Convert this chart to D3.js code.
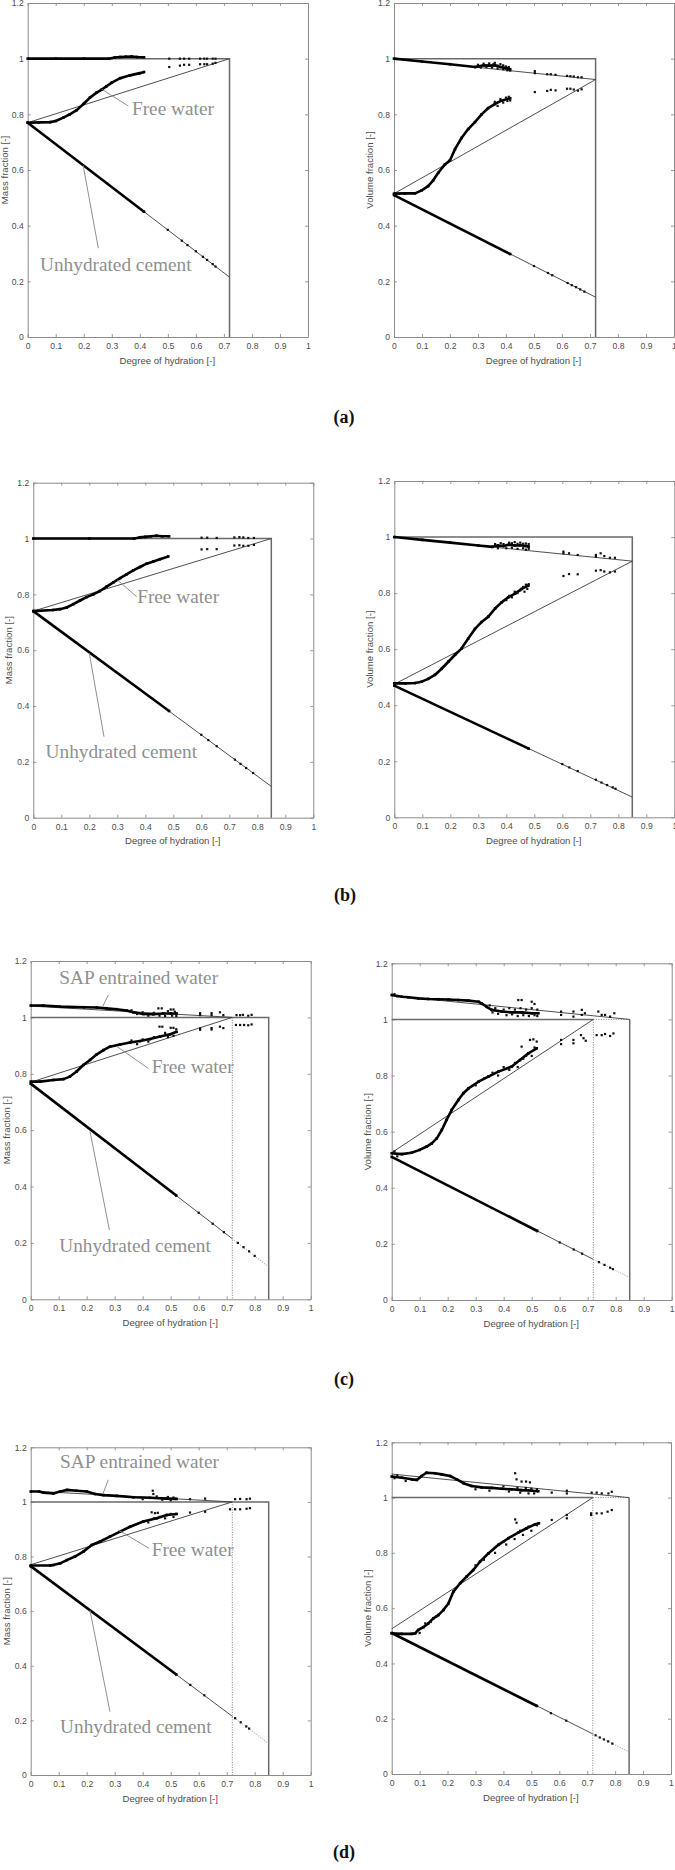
<!DOCTYPE html>
<html><head><meta charset="utf-8">
<script src="https://cdn.jsdelivr.net/npm/d3@7"></script>
<style>body{margin:0;background:#fff} svg{display:block}</style>
</head><body>
<svg id="c" width="675" height="1870"></svg>
<script>
// ---------- ticks ----------
const xTicks = [0,0.1,0.2,0.3,0.4,0.5,0.6,0.7,0.8,0.9,1];
const xTickLabels = ["0","0.1","0.2","0.3","0.4","0.5","0.6","0.7","0.8","0.9","1"];
const yTicks = [0,0.2,0.4,0.6,0.8,1,1.2];
const yTickLabels = ["0","0.2","0.4","0.6","0.8","1","1.2"];
const panelLetters = ["(a)","(b)","(c)","(d)"];

// ---------- (a) mass ----------
const aM_top = [[0,1.0],[0.1,1.0],[0.2,1.0],[0.29,1.0],[0.31,1.004],[0.33,1.006],[0.35,1.007],[0.37,1.008],[0.39,1.006],[0.415,1.005]];
const aM_topPts = [[0.505,1.0],[0.543,1.0],[0.558,1.0],[0.576,1.0],[0.615,1.0],[0.63,1.0],[0.64,1.0],[0.66,1.0],[0.67,1.0]];
const aM_free = [[0,0.77],[0.04,0.771],[0.08,0.772],[0.1,0.776],[0.127,0.788],[0.15,0.8],[0.175,0.815],[0.2,0.838],[0.222,0.86],[0.246,0.878],[0.264,0.889],[0.28,0.9],[0.3,0.914],[0.33,0.93],[0.365,0.94],[0.4,0.948],[0.415,0.952]];
const aM_freePts = [[0.505,0.97],[0.543,0.975],[0.558,0.978],[0.576,0.978],[0.615,0.98],[0.63,0.98],[0.64,0.98],[0.66,0.982],[0.67,0.985]];
const aM_cem = [[0,0.77],[0.415,0.45]];
const aM_cemPts = [[0.5,0.385],[0.55,0.346],[0.57,0.33],[0.6,0.308],[0.625,0.288],[0.64,0.277],[0.66,0.262],[0.67,0.253]];
const aM_thFree = [[0,0.77],[0.72,1.0]];
const aM_thCem = [[0,0.77],[0.72,0.215]];
const aM_box = [[0,1],[0.72,1],[0.72,0]];

// ---------- (a) volume ----------
const aV_top = [[0,1.0],[0.1,0.99],[0.2,0.98],[0.29,0.97],[0.3,0.972],[0.32,0.976],[0.34,0.975],[0.36,0.976],[0.38,0.97],[0.4,0.966],[0.415,0.962]];
const aV_topNoise = [[0.3,0.978],[0.31,0.968],[0.32,0.982],[0.33,0.97],[0.34,0.983],[0.35,0.968],[0.355,0.98],[0.36,0.985],[0.37,0.975],[0.37,0.965],[0.38,0.98],[0.39,0.962],[0.39,0.976],[0.4,0.972],[0.405,0.958],[0.41,0.97],[0.415,0.957]];
const aV_topPts = [[0.503,0.955],[0.503,0.948],[0.547,0.944],[0.56,0.944],[0.577,0.942],[0.618,0.938],[0.63,0.937],[0.642,0.936],[0.657,0.933],[0.67,0.933]];
const aV_free = [[0,0.515],[0.04,0.516],[0.075,0.516],[0.099,0.527],[0.122,0.542],[0.14,0.563],[0.158,0.59],[0.182,0.62],[0.2,0.635],[0.218,0.675],[0.241,0.715],[0.265,0.747],[0.289,0.772],[0.313,0.8],[0.336,0.822],[0.36,0.837],[0.384,0.849],[0.415,0.858]];
const aV_freeNoise = [[0.36,0.845],[0.37,0.83],[0.38,0.855],[0.39,0.842],[0.4,0.86],[0.405,0.848],[0.41,0.863],[0.415,0.85]];
const aV_freePts = [[0.503,0.88],[0.547,0.884],[0.56,0.888],[0.577,0.886],[0.618,0.892],[0.63,0.892],[0.642,0.889],[0.657,0.885],[0.67,0.89]];
const aV_cem = [[0,0.51],[0.415,0.298]];
const aV_cemPts = [[0.5,0.255],[0.55,0.23],[0.565,0.222],[0.62,0.194],[0.635,0.186],[0.65,0.179],[0.665,0.171],[0.68,0.163]];
const aV_thTop = [[0,1],[0.72,0.925]];
const aV_thFree = [[0,0.515],[0.72,0.925]];
const aV_thCem = [[0,0.51],[0.72,0.143]];
const aV_box = [[0,1],[0.72,1],[0.72,0]];

// ---------- (b) mass ----------
const bM_top = [[0,1.0],[0.2,1.0],[0.36,1.0],[0.38,1.004],[0.4,1.006],[0.42,1.008],[0.44,1.01],[0.46,1.008],[0.485,1.008]];
const bM_topPts = [[0.601,1.003],[0.621,1.003],[0.655,1.002],[0.718,1.004],[0.736,1.005],[0.75,1.004],[0.768,1.002],[0.788,1.002]];
const bM_free = [[0,0.74],[0.07,0.744],[0.095,0.747],[0.119,0.753],[0.143,0.765],[0.167,0.778],[0.19,0.79],[0.214,0.8],[0.238,0.812],[0.262,0.828],[0.286,0.843],[0.31,0.858],[0.333,0.872],[0.357,0.886],[0.381,0.898],[0.405,0.91],[0.429,0.918],[0.452,0.926],[0.482,0.936]];
const bM_freePts = [[0.601,0.961],[0.621,0.962],[0.655,0.962],[0.718,0.975],[0.736,0.976],[0.75,0.974],[0.768,0.974],[0.788,0.977]];
const bM_cem = [[0,0.74],[0.485,0.382]];
const bM_cemPts = [[0.6,0.297],[0.625,0.278],[0.655,0.256],[0.72,0.208],[0.74,0.193],[0.76,0.178],[0.785,0.16]];
const bM_thFree = [[0,0.74],[0.85,1.0]];
const bM_thCem = [[0,0.74],[0.85,0.112]];
const bM_box = [[0,1],[0.85,1],[0.85,0]];

// ---------- (b) volume ----------
const bV_top = [[0,1.0],[0.1,0.99],[0.2,0.98],[0.3,0.97],[0.35,0.965],[0.37,0.97],[0.39,0.968],[0.41,0.973],[0.43,0.97],[0.45,0.971],[0.47,0.968],[0.48,0.966]];
const bV_topNoise = [[0.36,0.975],[0.37,0.96],[0.38,0.978],[0.39,0.975],[0.4,0.96],[0.41,0.98],[0.42,0.978],[0.42,0.962],[0.43,0.982],[0.44,0.958],[0.44,0.976],[0.45,0.98],[0.46,0.976],[0.46,0.96],[0.47,0.977],[0.47,0.955],[0.48,0.975],[0.48,0.958]];
const bV_topPts = [[0.604,0.948],[0.604,0.942],[0.624,0.942],[0.655,0.936],[0.72,0.936],[0.72,0.93],[0.737,0.942],[0.75,0.932],[0.77,0.926],[0.788,0.926]];
const bV_free = [[0,0.478],[0.04,0.478],[0.074,0.479],[0.098,0.484],[0.121,0.494],[0.145,0.508],[0.169,0.53],[0.193,0.555],[0.217,0.58],[0.24,0.602],[0.264,0.638],[0.288,0.672],[0.312,0.697],[0.336,0.716],[0.36,0.745],[0.383,0.767],[0.407,0.785],[0.431,0.798],[0.455,0.815],[0.479,0.827]];
const bV_freeNoise = [[0.4,0.775],[0.41,0.79],[0.42,0.785],[0.43,0.805],[0.44,0.8],[0.45,0.81],[0.46,0.822],[0.465,0.805],[0.47,0.83],[0.475,0.815],[0.48,0.832]];
const bV_freePts = [[0.604,0.861],[0.624,0.868],[0.655,0.867],[0.72,0.88],[0.737,0.882],[0.75,0.877],[0.77,0.874],[0.788,0.877]];
const bV_cem = [[0,0.47],[0.48,0.245]];
const bV_cemPts = [[0.6,0.19],[0.625,0.178],[0.655,0.165],[0.72,0.134],[0.74,0.124],[0.76,0.115],[0.78,0.107],[0.79,0.102]];
const bV_thTop = [[0,1],[0.85,0.914]];
const bV_thFree = [[0,0.475],[0.85,0.914]];
const bV_thCem = [[0,0.47],[0.85,0.072]];
const bV_box = [[0,1],[0.85,1],[0.85,0]];

// ---------- (c) mass ----------
const cM_sap = [[0,1.042],[0.045,1.042],[0.105,1.038],[0.19,1.036],[0.236,1.035],[0.27,1.032],[0.307,1.029],[0.343,1.024],[0.367,1.018],[0.402,1.012],[0.438,1.011],[0.474,1.014],[0.5,1.014],[0.521,1.014]];
const cM_sapNoise = [[0.36,1.025],[0.38,1.012],[0.4,1.018],[0.42,1.006],[0.44,1.016],[0.456,1.032],[0.468,1.032],[0.46,1.006],[0.48,1.005],[0.49,1.022],[0.5,1.028],[0.51,1.028],[0.505,1.006],[0.515,1.02],[0.52,1.005]];
const cM_sapPts = [[0.605,1.015],[0.605,1.008],[0.646,1.015],[0.646,1.008],[0.676,1.018],[0.688,1.008],[0.735,1.008],[0.748,1.008],[0.758,1.009],[0.777,1.006],[0.789,1.009]];
const cM_free = [[0,0.772],[0.033,0.772],[0.081,0.778],[0.117,0.781],[0.14,0.79],[0.164,0.808],[0.188,0.831],[0.212,0.849],[0.236,0.869],[0.26,0.884],[0.283,0.896],[0.319,0.904],[0.355,0.911],[0.39,0.916],[0.426,0.923],[0.462,0.932],[0.498,0.94],[0.521,0.949]];
const cM_freeNoise = [[0.36,0.918],[0.38,0.905],[0.4,0.922],[0.42,0.914],[0.44,0.93],[0.46,0.967],[0.47,0.967],[0.48,0.945],[0.49,0.93],[0.5,0.963],[0.51,0.963],[0.51,0.935],[0.52,0.958]];
const cM_freePts = [[0.605,0.961],[0.605,0.956],[0.646,0.962],[0.646,0.957],[0.676,0.967],[0.688,0.962],[0.733,0.973],[0.748,0.973],[0.762,0.973],[0.777,0.972],[0.789,0.975]];
const cM_cem = [[0,0.765],[0.52,0.368]];
const cM_cemPts = [[0.6,0.307],[0.65,0.268],[0.69,0.238],[0.74,0.2],[0.76,0.185],[0.78,0.17],[0.8,0.154]];
const cM_thSap = [[0,1.04],[0.72,1.0]];
const cM_thFree = [[0,0.77],[0.72,1.0]];
const cM_thCem = [[0,0.765],[0.72,0.215]];
const cM_thCemDot = [[0.72,0.215],[0.85,0.115]];
const cM_box = [[0,1],[0.85,1],[0.85,0]];
const cM_dotV = [[0.72,1],[0.72,0]];

// ---------- (c) volume ----------
const cV_sap = [[0,1.087],[0.036,1.081],[0.06,1.079],[0.095,1.075],[0.131,1.073],[0.167,1.072],[0.202,1.071],[0.238,1.069],[0.274,1.067],[0.31,1.063],[0.321,1.057],[0.339,1.045],[0.357,1.034],[0.393,1.028],[0.429,1.025],[0.464,1.025],[0.5,1.022],[0.524,1.022]];
const cV_sapNoise = [[0.01,1.09],[0.02,1.082],[0.35,1.05],[0.36,1.025],[0.37,1.04],[0.38,1.02],[0.4,1.035],[0.41,1.015],[0.42,1.04],[0.43,1.018],[0.44,1.035],[0.45,1.012],[0.452,1.069],[0.464,1.069],[0.46,1.04],[0.47,1.015],[0.48,1.035],[0.49,1.012],[0.5,1.063],[0.51,1.055],[0.5,1.04],[0.51,1.015],[0.52,1.035],[0.52,1.012]];
const cV_sapPts = [[0.605,1.028],[0.605,1.016],[0.649,1.028],[0.649,1.01],[0.679,1.034],[0.679,1.016],[0.69,1.022],[0.738,1.028],[0.75,1.016],[0.762,1.016],[0.78,1.01],[0.795,1.022]];
const cV_free = [[0,0.523],[0.036,0.52],[0.071,0.525],[0.1,0.535],[0.125,0.547],[0.143,0.558],[0.161,0.576],[0.179,0.606],[0.196,0.642],[0.214,0.677],[0.238,0.713],[0.256,0.737],[0.274,0.754],[0.31,0.778],[0.345,0.796],[0.381,0.814],[0.429,0.832],[0.458,0.855],[0.488,0.879],[0.518,0.897]];
const cV_freeNoise = [[0.01,0.53],[0.02,0.512],[0.3,0.765],[0.33,0.79],[0.36,0.81],[0.38,0.8],[0.4,0.83],[0.42,0.82],[0.44,0.845],[0.45,0.83],[0.464,0.903],[0.47,0.86],[0.48,0.87],[0.494,0.927],[0.506,0.929],[0.518,0.921],[0.5,0.87],[0.51,0.9]];
const cV_freePts = [[0.605,0.927],[0.605,0.912],[0.649,0.927],[0.649,0.915],[0.676,0.944],[0.685,0.933],[0.693,0.924],[0.732,0.944],[0.75,0.944],[0.762,0.948],[0.78,0.941],[0.792,0.95]];
const cV_cem = [[0,0.51],[0.52,0.246]];
const cV_cemPts = [[0.6,0.205],[0.65,0.18],[0.68,0.165],[0.74,0.135],[0.76,0.125],[0.78,0.115],[0.79,0.11]];
const cV_thSap = [[0,1.085],[0.85,1.0]];
const cV_thFree = [[0,0.525],[0.72,1.0]];
const cV_thCem = [[0,0.51],[0.72,0.145]];
const cV_thCemDot = [[0.72,0.145],[0.85,0.08]];
const cV_box = [[0,1],[0.72,1]];
const cV_boxDot = [[0.72,1],[0.85,1]];
const cV_boxV = [[0.85,1],[0.85,0]];
const cV_dotV = [[0.72,1],[0.72,0]];

// ---------- (d) mass ----------
const dM_sap = [[0,1.038],[0.03,1.038],[0.045,1.034],[0.081,1.031],[0.105,1.038],[0.129,1.044],[0.164,1.041],[0.2,1.038],[0.23,1.029],[0.26,1.025],[0.307,1.022],[0.367,1.017],[0.426,1.015],[0.486,1.012],[0.521,1.011]];
const dM_sapNoise = [[0.436,1.041],[0.438,1.029],[0.4,1.01],[0.45,1.02],[0.47,1.008],[0.49,1.018],[0.5,1.006],[0.51,1.016]];
const dM_sapPts = [[0.569,1.01],[0.623,1.012],[0.73,1.01],[0.748,1.011],[0.771,1.01],[0.783,1.012]];
const dM_free = [[0,0.767],[0.07,0.767],[0.081,0.769],[0.105,0.775],[0.129,0.787],[0.158,0.8],[0.188,0.818],[0.218,0.842],[0.248,0.855],[0.283,0.873],[0.319,0.891],[0.355,0.909],[0.402,0.928],[0.45,0.94],[0.486,0.952],[0.521,0.956]];
const dM_freeNoise = [[0.432,0.962],[0.444,0.959],[0.454,0.96],[0.42,0.925],[0.44,0.94],[0.46,0.945],[0.48,0.94],[0.5,0.956],[0.51,0.945]];
const dM_freePts = [[0.569,0.961],[0.623,0.964],[0.712,0.973],[0.73,0.973],[0.748,0.973],[0.771,0.975],[0.783,0.977]];
const dM_cem = [[0,0.765],[0.52,0.368]];
const dM_cemPts = [[0.57,0.33],[0.62,0.292],[0.73,0.208],[0.75,0.193],[0.77,0.178],[0.78,0.17]];
const dM_thSap = [[0,1.04],[0.72,1.0]];
const dM_thFree = [[0,0.77],[0.72,1.0]];
const dM_thCem = [[0,0.765],[0.72,0.215]];
const dM_thCemDot = [[0.72,0.215],[0.85,0.115]];
const dM_box = [[0,1],[0.85,1],[0.85,0]];
const dM_dotV = [[0.72,1],[0.72,0]];

// ---------- (d) volume ----------
const dV_sap = [[0,1.076],[0.036,1.072],[0.072,1.066],[0.09,1.064],[0.107,1.078],[0.125,1.09],[0.155,1.088],[0.179,1.084],[0.209,1.078],[0.233,1.066],[0.257,1.052],[0.286,1.042],[0.322,1.037],[0.358,1.035],[0.394,1.032],[0.43,1.03],[0.465,1.027],[0.501,1.025],[0.525,1.023]];
const dV_sapNoise = [[0.442,1.088],[0.447,1.066],[0.465,1.058],[0.481,1.058],[0.495,1.055],[0.01,1.07],[0.02,1.08],[0.05,1.06],[0.3,1.03],[0.35,1.025],[0.4,1.04],[0.42,1.022],[0.45,1.035],[0.46,1.018],[0.48,1.035],[0.49,1.015],[0.5,1.032],[0.51,1.015],[0.52,1.03]];
const dV_sapPts = [[0.573,1.018],[0.627,1.025],[0.627,1.015],[0.716,1.018],[0.734,1.018],[0.752,1.015],[0.776,1.015],[0.788,1.021]];
const dV_free = [[0,0.509],[0.036,0.507],[0.072,0.507],[0.084,0.509],[0.095,0.521],[0.113,0.531],[0.131,0.545],[0.149,0.563],[0.167,0.575],[0.185,0.593],[0.203,0.617],[0.221,0.66],[0.245,0.69],[0.268,0.714],[0.292,0.738],[0.316,0.768],[0.346,0.798],[0.382,0.829],[0.418,0.853],[0.453,0.873],[0.483,0.889],[0.513,0.903],[0.527,0.907]];
const dV_freeNoise = [[0.442,0.921],[0.447,0.909],[0.1,0.51],[0.12,0.545],[0.14,0.55],[0.16,0.57],[0.3,0.755],[0.33,0.775],[0.36,0.81],[0.37,0.8],[0.4,0.84],[0.41,0.83],[0.43,0.86],[0.44,0.85],[0.46,0.88],[0.47,0.865],[0.49,0.895],[0.5,0.88],[0.52,0.9]];
const dV_freePts = [[0.573,0.919],[0.627,0.937],[0.627,0.925],[0.714,0.943],[0.714,0.937],[0.734,0.943],[0.752,0.943],[0.773,0.949],[0.788,0.955]];
const dV_cem = [[0,0.51],[0.52,0.246]];
const dV_cemPts = [[0.57,0.22],[0.625,0.193],[0.73,0.14],[0.745,0.132],[0.76,0.125],[0.775,0.118],[0.79,0.11]];
const dV_thSap = [[0,1.085],[0.85,1.0]];
const dV_thFree = [[0,0.525],[0.72,1.0]];
const dV_thCem = [[0,0.51],[0.72,0.145]];
const dV_thCemDot = [[0.72,0.145],[0.85,0.08]];
const dV_box = [[0,1],[0.72,1]];
const dV_boxDot = [[0.72,1],[0.85,1]];
const dV_boxV = [[0.85,1],[0.85,0]];
const dV_dotV = [[0.72,1],[0.72,0]];

// ---------- annotation texts ----------
const txtFree = "Free water", txtCem = "Unhydrated cement", txtSap = "SAP entrained water";
const massTitle = "Mass fraction [-]", volTitle = "Volume fraction [-]", xTitle = "Degree of hydration [-]";

// ---------- layout (pixel positions) ----------
const panels = [
 {x0:27.7, x1:308, y0:3, y1:337, yt:massTitle, ytx:5,
  theory:[aM_thFree,aM_thCem], box:[aM_box], dots:[], boxDots:[],
  dense:[aM_top,aM_free,aM_cem], pts:[aM_topPts,aM_freePts,aM_cemPts],
  notes:[{t:txtFree,x:0.372,y:0.798,l:[[0.264,0.89],[0.359,0.83]]},{t:txtCem,x:0.044,y:0.238,l:[[0.198,0.616],[0.252,0.319]]}]},
 {x0:394, x1:674, y0:3, y1:337, yt:volTitle, ytx:370,
  theory:[aV_thTop,aV_thFree,aV_thCem], box:[aV_box], dots:[], boxDots:[],
  dense:[aV_top,aV_free,aV_cem], pts:[aV_topNoise,aV_topPts,aV_freeNoise,aV_freePts,aV_cemPts], notes:[]},
 {x0:33.3, x1:313.3, y0:482.7, y1:817.7, yt:massTitle, ytx:9,
  theory:[bM_thFree,bM_thCem], box:[bM_box], dots:[], boxDots:[],
  dense:[bM_top,bM_free,bM_cem], pts:[bM_topPts,bM_freePts,bM_cemPts],
  notes:[{t:txtFree,x:0.371,y:0.77,l:[[0.3,0.852],[0.369,0.792]]},{t:txtCem,x:0.044,y:0.213,l:[[0.2,0.589],[0.2525,0.29]]}]},
 {x0:394.3, x1:674.3, y0:481, y1:817.3, yt:volTitle, ytx:369.5,
  theory:[bV_thTop,bV_thFree,bV_thCem], box:[bV_box], dots:[], boxDots:[],
  dense:[bV_top,bV_free,bV_cem], pts:[bV_topNoise,bV_topPts,bV_freeNoise,bV_freePts,bV_cemPts], notes:[]},
 {x0:30.7, x1:310.7, y0:961, y1:1299.3, yt:massTitle, ytx:6.5,
  theory:[cM_thSap,cM_thFree,cM_thCem], box:[cM_box], dots:[cM_thCemDot], boxDots:[cM_dotV],
  dense:[cM_sap,cM_free,cM_cem], pts:[cM_sapNoise,cM_sapPts,cM_freeNoise,cM_freePts,cM_cemPts],
  notes:[{t:txtSap,x:0.102,y:1.118,l:[[0.277,1.079],[0.257,1.038]]},{t:txtFree,x:0.432,y:0.802,l:[[0.309,0.896],[0.42,0.819]]},{t:txtCem,x:0.102,y:0.169,l:[[0.212,0.595],[0.281,0.246]]}]},
 {x0:391.7, x1:671.7, y0:963.3, y1:1300, yt:volTitle, ytx:368,
  theory:[cV_thSap,cV_thFree,cV_thCem], box:[cV_box,cV_boxV], dots:[cV_thCemDot], boxDots:[cV_dotV,cV_boxDot],
  dense:[cV_sap,cV_free,cV_cem], pts:[cV_sapNoise,cV_sapPts,cV_freeNoise,cV_freePts,cV_cemPts], notes:[]},
 {x0:30.7, x1:310.7, y0:1447.3, y1:1775, yt:massTitle, ytx:6.5,
  theory:[dM_thSap,dM_thFree,dM_thCem], box:[dM_box], dots:[dM_thCemDot], boxDots:[dM_dotV],
  dense:[dM_sap,dM_free,dM_cem], pts:[dM_sapNoise,dM_sapPts,dM_freeNoise,dM_freePts,dM_cemPts],
  notes:[{t:txtSap,x:0.105,y:1.123,l:[[0.277,1.081],[0.259,1.032]]},{t:txtFree,x:0.432,y:0.802,l:[[0.313,0.897],[0.4225,0.83]]},{t:txtCem,x:0.105,y:0.155,l:[[0.212,0.602],[0.283,0.232]]}]},
 {x0:391.7, x1:671, y0:1442.3, y1:1774, yt:volTitle, ytx:368,
  theory:[dV_thSap,dV_thFree,dV_thCem], box:[dV_box,dV_boxV], dots:[dV_thCemDot], boxDots:[dV_dotV,dV_boxDot],
  dense:[dV_sap,dV_free,dV_cem], pts:[dV_sapNoise,dV_sapPts,dV_freeNoise,dV_freePts,dV_cemPts], notes:[]}
];
const letterPos = [{x:344,y:423},{x:345,y:901},{x:344,y:1385},{x:344,y:1858}];

const svg = d3.select('#c');
const SANS = "'Liberation Sans', Arial, sans-serif";
const SERIF = "'Liberation Serif', 'Times New Roman', serif";
const AX = "#8c8c8c", TXT = "#4d4d4d";

panels.forEach(p => {
  const x = d3.scaleLinear().domain([0,1]).range([p.x0,p.x1]);
  const y = d3.scaleLinear().domain([0,1.2]).range([p.y1,p.y0]);
  const line = d3.line().x(d=>x(d[0])).y(d=>y(d[1]));
  const g = svg.append('g');

  const styleAxis = sel => {
    sel.selectAll('.domain').attr('stroke',AX).attr('stroke-width',1);
    sel.selectAll('.tick line').attr('stroke',AX).attr('stroke-width',0.9);
    sel.selectAll('.tick text').attr('fill',TXT).style('font-family',SANS).style('font-size','8.6px');
  };
  g.append('g').attr('transform',`translate(0,${p.y1})`)
    .call(d3.axisBottom(x).tickValues(xTicks).tickFormat((d,i)=>xTickLabels[i]).tickSize(-3).tickSizeOuter(0).tickPadding(6)).call(styleAxis);
  g.append('g').attr('transform',`translate(0,${p.y0})`)
    .call(d3.axisTop(x).tickValues(xTicks).tickFormat('').tickSize(-3).tickSizeOuter(0)).call(styleAxis);
  g.append('g').attr('transform',`translate(${p.x0},0)`)
    .call(d3.axisLeft(y).tickValues(yTicks).tickFormat((d,i)=>yTickLabels[i]).tickSize(-3).tickSizeOuter(0).tickPadding(4)).call(styleAxis);
  g.append('g').attr('transform',`translate(${p.x1},0)`)
    .call(d3.axisRight(y).tickValues(yTicks).tickFormat('').tickSize(-3).tickSizeOuter(0)).call(styleAxis);

  // titles
  g.append('text').attr('x',(p.x0+p.x1)/2 - 0.5).attr('y',p.y1+26.5).attr('text-anchor','middle')
    .attr('fill',TXT).style('font-family',SANS).style('font-size','9.6px').text(xTitle);
  g.append('text').attr('transform',`translate(${p.ytx},${(p.y0+p.y1)/2}) rotate(-90)`).attr('dy','0.35em')
    .attr('text-anchor','middle').attr('fill',TXT).style('font-family',SANS).style('font-size','9.6px').text(p.yt);

  // box lines
  p.box.forEach(b => g.append('path').attr('d',line(b)).attr('fill','none').attr('stroke','#6a6a6a').attr('stroke-width',1.5));
  p.boxDots.forEach(b => g.append('path').attr('d',line(b)).attr('fill','none').attr('stroke','#7a7a7a').attr('stroke-width',1).attr('stroke-dasharray','1,1.5'));
  // theory lines
  p.theory.forEach(t => g.append('path').attr('d',line(t)).attr('fill','none').attr('stroke','#3a3a3a').attr('stroke-width',0.9));
  p.dots.forEach(t => g.append('path').attr('d',line(t)).attr('fill','none').attr('stroke','#8a8a8a').attr('stroke-width',0.9).attr('stroke-dasharray','1,1.5'));

  // dense data
  p.dense.forEach(s => {
    g.append('path').attr('d',line(s)).attr('fill','none').attr('stroke','#000').attr('stroke-width',2.6).attr('stroke-linejoin','round');
    g.selectAll(null).data(s).enter().append('rect')
      .attr('x',d=>x(d[0])-1.3).attr('y',d=>y(d[1])-1.3).attr('width',2.6).attr('height',2.6).attr('fill','#000');
  });
  // scatter points
  p.pts.forEach(s => {
    g.selectAll(null).data(s).enter().append('rect')
      .attr('x',d=>x(d[0])-1.1).attr('y',d=>y(d[1])-1.1).attr('width',2.2).attr('height',2.2).attr('fill','#111');
  });

  // annotations
  p.notes.forEach(n => {
    g.append('path').attr('d',line(n.l)).attr('fill','none').attr('stroke','#8f8f8f').attr('stroke-width',1);
    g.append('text').attr('x',x(n.x)).attr('y',y(n.y)).attr('fill','#8f8f8f')
      .style('font-family',SERIF).style('font-size','19.3px').text(n.t);
  });
});

panelLetters.forEach((t,i) => {
  svg.append('text').attr('x',letterPos[i].x).attr('y',letterPos[i].y).attr('text-anchor','middle')
    .attr('fill','#111').style('font-family',SERIF).style('font-weight','bold').style('font-size','18px').text(t);
});
</script>
</body></html>
